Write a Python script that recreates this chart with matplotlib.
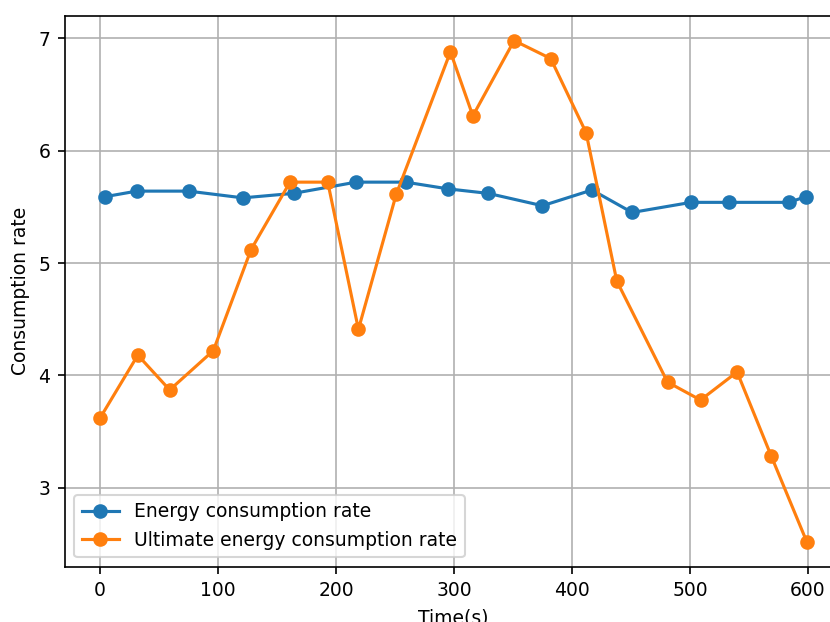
import matplotlib
matplotlib.use("Agg")
import matplotlib.pyplot as plt

# Energy consumption rate (blue)
time_energy = [4, 31, 75, 121, 164, 217, 259, 295, 329, 375, 417, 451, 501, 533, 584, 598]
energy_rate = [5.59, 5.64, 5.64, 5.58, 5.62, 5.72, 5.72, 5.66, 5.62, 5.51, 5.65, 5.45, 5.54, 5.54, 5.54, 5.59]

# Ultimate energy consumption rate (orange)
time_ultimate = [0, 32, 59, 96, 128, 161, 193, 219, 251, 297, 316, 351, 382, 412, 438,
                 481, 509, 540, 569, 599]
ultimate_rate = [3.62, 4.18, 3.87, 4.22, 5.12, 5.72, 5.72, 4.41, 5.61, 6.88, 6.31, 6.98,
                 6.82, 6.16, 4.84, 3.94, 3.78, 4.03, 3.28, 2.52]

plt.rcParams["font.size"] = 9

dpi = 150
fig = plt.figure(figsize=(830 / dpi, 622 / dpi), dpi=dpi)
# the original is cropped on the right, so the axes run a little past the edge
ax = fig.add_axes([0.078, 0.089, 0.9365, 0.886])

ax.plot(time_energy, energy_rate, marker="o", label="Energy consumption rate")
ax.plot(time_ultimate, ultimate_rate, marker="o", label="Ultimate energy consumption rate")

ax.set_xlabel("Time(s)")
ax.set_ylabel("Consumption rate")
ax.grid(True)
ax.legend(loc="lower left")

fig.savefig("out.png", dpi=dpi)
